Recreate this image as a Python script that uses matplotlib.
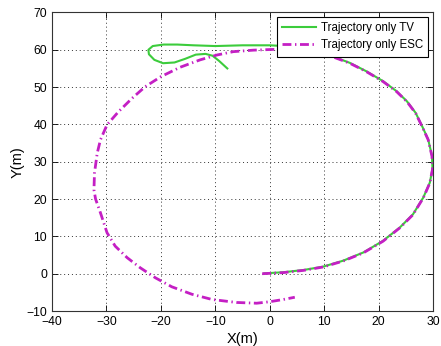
import matplotlib
matplotlib.use("Agg")
import matplotlib.pyplot as plt

plt.rcParams['font.family'] = ['Liberation Sans', 'DejaVu Sans']

# ESC trajectory
esc_x = [-1.4, 2.5, 6.2, 9.8, 13.5, 17.2, 20.8, 23.9, 26.3, 28.2, 29.4, 29.9, 29.8,
         29.1, 28.0, 26.8, 25.2, 23.3, 20.8, 17.8, 14.7, 10.5, 7.0, 3.5, 0.7, -3.0,
         -6.7, -9.7, -12.8, -16.5, -20.0, -22.9, -25.3, -27.8, -29.9, -31.1, -31.7,
         -32.2, -32.3, -32.0, -31.1, -29.9, -28.4, -26.2, -23.8, -21.0, -18.0, -14.3,
         -10.6, -6.1, -2.4, 0.0, 2.5, 4.6]
esc_y = [0.0, 0.3, 0.9, 1.8, 3.4, 5.6, 8.7, 12.3, 15.8, 20.3, 24.3, 28.0, 31.5,
         35.9, 39.4, 43.0, 46.1, 48.8, 51.5, 54.1, 56.4, 58.7, 59.5, 60.0, 60.1, 59.9,
         59.5, 58.6, 57.3, 55.3, 52.8, 50.1, 47.0, 43.4, 39.9, 35.9, 32.3,
         27.0, 22.5, 20.0, 16.3, 11.0, 7.4, 4.3, 1.6, -1.1, -3.5, -5.5,
         -6.9, -7.7, -7.9, -7.5, -6.9, -6.3]

# TV trajectory
tv_x = [-1.0, 2.5, 6.2, 9.8, 13.5, 17.2, 20.8, 23.9, 26.3, 28.2, 29.4, 29.9, 29.8,
        29.1, 28.0, 26.8, 25.2, 23.3, 20.8, 17.8, 14.7, 10.5, 7.0, 4.0, 0.0, -5.0,
        -10.0, -14.0, -17.0, -19.5, -21.5, -22.3, -22.2, -21.2, -19.6, -17.5, -15.5,
        -13.6, -11.8, -10.5, -9.3, -7.8]
tv_y = [0.1, 0.4, 1.0, 1.9, 3.5, 5.7, 8.8, 12.4, 15.9, 20.4, 24.4, 28.1, 31.6,
        36.0, 39.5, 43.1, 46.2, 48.9, 51.6, 54.2, 56.5, 58.8, 60.2, 60.9, 61.2, 61.2,
        61.0, 61.2, 61.4, 61.4, 61.0, 60.0, 58.8, 57.3, 56.4, 56.6, 57.6,
        58.7, 58.9, 58.4, 57.0, 55.0]

fig = plt.figure(figsize=(4.41, 3.46), dpi=100)
ax = fig.add_axes([0.118, 0.101, 0.864, 0.863])

ax.plot(tv_x, tv_y, color='#3ccc3c', lw=1.5, label='Trajectory only TV', zorder=3,
        solid_joinstyle='round')
ax.plot(esc_x, esc_y, color='#c41fc4', lw=2.0, dashes=(3.2, 1.3, 0.5, 1.3),
        label='Trajectory only ESC', zorder=4)

ax.set_xlim(-40, 30)
ax.set_ylim(-10, 70)
ax.set_xticks(range(-40, 31, 10))
ax.set_yticks(range(-10, 71, 10))
ax.tick_params(direction='in', top=True, right=True, labelsize=8.7, length=4, width=0.6)
ax.grid(True, linestyle=(0, (1, 3)), color='#333333', linewidth=0.7)
for s in ax.spines.values():
    s.set_linewidth(0.8)
    s.set_color('#333333')
ax.set_xlabel('X(m)', fontsize=10.5, labelpad=3)
ax.set_ylabel('Y(m)', fontsize=10.5, labelpad=1)

leg = ax.legend(loc='upper right', fontsize=8.3, frameon=True, fancybox=False,
                edgecolor='black', framealpha=1, handlelength=3.0, borderaxespad=0.4,
                borderpad=0.45, labelspacing=0.45, handletextpad=0.4)
leg.get_frame().set_linewidth(0.8)

fig.savefig('out.png', dpi=100)
